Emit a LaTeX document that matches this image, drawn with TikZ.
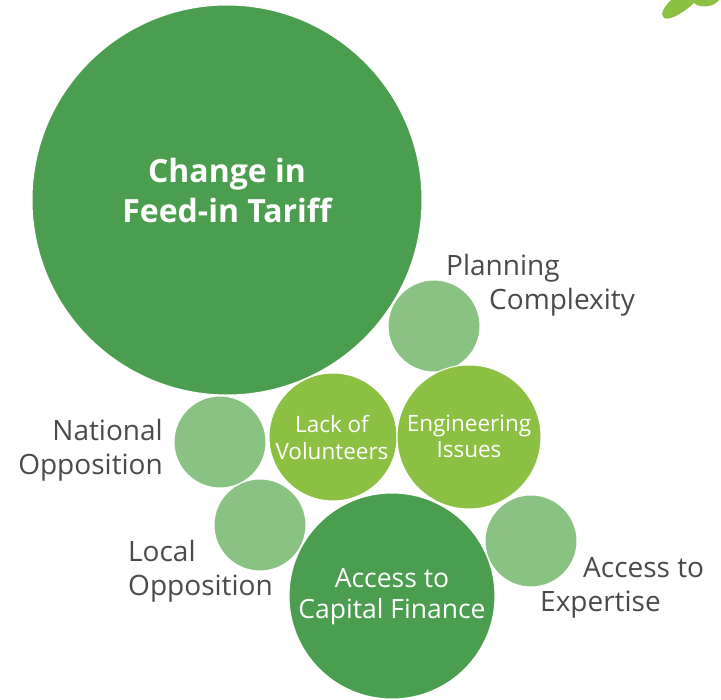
\documentclass[tikz,border=0pt]{standalone}
\usepackage{fontspec}
\setmainfont{Open Sans}
\definecolor{dkgreen}{HTML}{4B9E4F}
\definecolor{ltgreen}{HTML}{8AC283}
\definecolor{lime}{HTML}{8CC043}
\definecolor{labelgray}{HTML}{4A4A4A}
\newcommand{\twoC}[2]{\vtop{\halign{\hfil##\hfil\cr #1\cr #2\cr}}}
\newcommand{\twoL}[2]{\vtop{\halign{##\hfil\cr #1\cr #2\cr}}}
\newcommand{\twoR}[2]{\vtop{\halign{\hfil##\cr #1\cr #2\cr}}}
\tikzset{
  bubble/.style={circle, inner sep=0pt, draw=white, line width=1pt, minimum size=#1},
  dark/.style={fill=dkgreen},
  light/.style={fill=ltgreen},
  limeb/.style={fill=lime},
  graylabel/.style={inner sep=0pt, text=labelgray, font=\fontsize{28}{33.5}\selectfont},
}
\begin{document}
\begin{tikzpicture}[x=1pt, y=-1pt]
\useasboundingbox (0,0) rectangle (721,700);
% decorative leaf top right
\fill[lime] (671,0) .. controls (665,6) and (659,14) .. (664,18)
  .. controls (670,22) and (688,9) .. (694,3)
  .. controls (699,8) and (713,8) .. (719,0) -- cycle;
% bubbles
\node[bubble=390pt, dark] (fit) at (227,200) {};
\node[bubble=92pt, light] (plan) at (434,326) {};
\node[bubble=92pt, light] (natl) at (220,442) {};
\node[bubble=128pt, limeb] (vol) at (333,437) {};
\node[bubble=144pt, limeb] (eng) at (469,437) {};
\node[bubble=92pt, light] (local) at (260,525) {};
\node[bubble=206pt, dark] (cap) at (392,596) {};
\node[bubble=92pt, light] (exp) at (531,541) {};
% texts
\node[inner sep=0pt, text=white, font=\fontsize{32}{40}\selectfont\bfseries, anchor=base] (fitT) at (227,183) {\twoC{Change in}{Feed-in Tariff}};
\node[graylabel, anchor=base west] (planT) at (446,276) {\vtop{\hbox{Planning}\hbox{\hspace*{43pt}Complexity}}};
\node[graylabel, anchor=base east] (natlT) at (163,441) {\twoR{National}{Opposition}};
\node[graylabel, anchor=base west] (localT) at (128,562) {\twoL{Local}{Opposition}};
\node[graylabel, anchor=base west] (expT) at (540,578) {\vtop{\hbox{\hspace*{43pt}Access to}\hbox{Expertise}}};
\node[inner sep=0pt, text=white, font=\fontsize{22.5}{26.5}\selectfont, anchor=base] (volT) at (332,433) {\twoC{Lack of}{Volunteers}};
\node[inner sep=0pt, text=white, font=\fontsize{22.5}{25.5}\selectfont, anchor=base] (engT) at (469,432) {\twoC{Engineering}{Issues}};
\node[inner sep=0pt, text=white, font=\fontsize{26.5}{32}\selectfont, anchor=base] (capT) at (392,587) {\twoC{Access to}{Capital Finance}};
\end{tikzpicture}
\end{document}
